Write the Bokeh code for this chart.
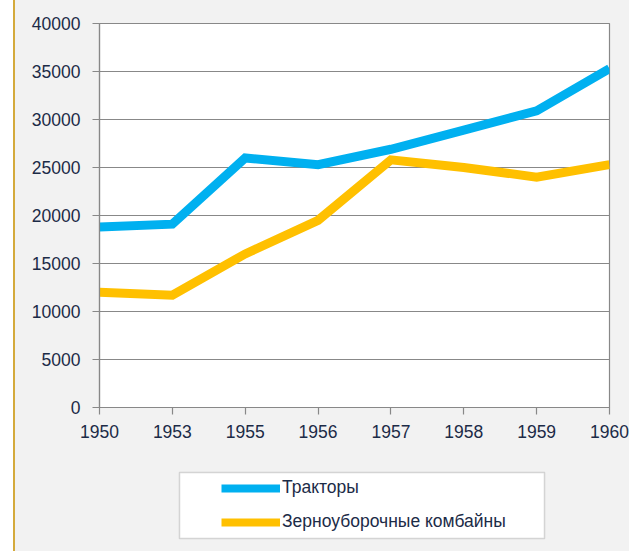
from bokeh.plotting import figure
from bokeh.layouts import column
from bokeh.models import Legend, LegendItem, FixedTicker, Range1d, BoxAnnotation
from bokeh.embed import file_html
from bokeh.resources import INLINE

years = ["1950", "1953", "1955", "1956", "1957", "1958", "1959", "1960"]
tractors = [18800, 19100, 26000, 25300, 26900, 28900, 30900, 35300]
combines = [12000, 11700, 16000, 19500, 25800, 25000, 24000, 25300]
y_ticks = [0, 5000, 10000, 15000, 20000, 25000, 30000, 35000, 40000]
series_names = ["Тракторы", "Зерноуборочные комбайны"]
series_colors = ["#00b0f0", "#ffc000"]

x_idx = list(range(len(years)))

FONT = "Liberation Sans"
TEXT_COLOR = "#1c2b47"
GRID = "#888888"
BG = "#f2f2f2"

# ---- main chart ----
fig = figure(width=614, height=457, output_backend="svg", toolbar_location=None,
             x_range=Range1d(0, len(years) - 1), y_range=Range1d(y_ticks[0], y_ticks[-1]),
             min_border_left=84, min_border_right=20, min_border_top=23, min_border_bottom=50)
fig.background_fill_color = "white"
fig.border_fill_color = BG
fig.outline_line_color = GRID
fig.outline_line_width = 1.2

fig.xaxis.ticker = FixedTicker(ticks=x_idx)
fig.xaxis.major_label_overrides = {i: y for i, y in zip(x_idx, years)}
fig.yaxis.ticker = FixedTicker(ticks=y_ticks)
fig.yaxis.formatter.use_scientific = False

for ax in (fig.xaxis[0], fig.yaxis[0]):
    ax.axis_line_color = GRID
    ax.axis_line_width = 1.2
    ax.major_tick_line_color = GRID
    ax.major_tick_line_width = 1.2
    ax.major_tick_out = 7
    ax.major_tick_in = 0
    ax.minor_tick_line_color = None
    ax.major_label_text_font = FONT
    ax.major_label_text_font_size = "17.5px"
    ax.major_label_text_color = TEXT_COLOR
fig.xaxis.major_label_standoff = 10
fig.yaxis.major_label_standoff = 12

fig.xgrid.grid_line_color = None
fig.ygrid.grid_line_color = GRID
fig.ygrid.grid_line_width = 1.2

fig.line(x_idx, tractors, line_color=series_colors[0], line_width=9, line_join="miter")
fig.line(x_idx, combines, line_color=series_colors[1], line_width=9, line_join="miter")

# ---- legend panel ----
leg = figure(width=614, height=94, output_backend="svg", toolbar_location=None,
             x_axis_type=None, y_axis_type=None,
             min_border_left=84, min_border_right=20, min_border_top=8, min_border_bottom=6)
leg.background_fill_color = BG
leg.border_fill_color = BG
leg.outline_line_color = None

lr1 = leg.line(x_idx, tractors, line_color=series_colors[0], line_width=8, visible=False)
lr2 = leg.line(x_idx, combines, line_color=series_colors[1], line_width=8, visible=False)

box = BoxAnnotation(left=80, right=445, bottom=7, top=73,
                    left_units="screen", right_units="screen",
                    top_units="screen", bottom_units="screen",
                    fill_color="white", fill_alpha=1.0,
                    line_color="#7f7f7f", line_width=1.5)
leg.add_layout(box)

legend = Legend(items=[LegendItem(label=series_names[0], renderers=[lr1]),
                       LegendItem(label=series_names[1], renderers=[lr2])],
                location=(122, 13), orientation="vertical",
                padding=0, margin=0, spacing=13,
                glyph_width=59, glyph_height=20, label_standoff=2,
                label_text_font=FONT, label_text_font_size="17.5px",
                label_text_color=TEXT_COLOR,
                border_line_color=None, background_fill_alpha=0,
                inactive_fill_alpha=0)
leg.add_layout(legend, "center")

p = column(fig, leg, spacing=0, margin=(0, 0, 0, 13),
           styles={"border-left": "2px solid #d4aa3c", "background-color": BG})

open("out.html", "w").write(file_html(p, INLINE))
